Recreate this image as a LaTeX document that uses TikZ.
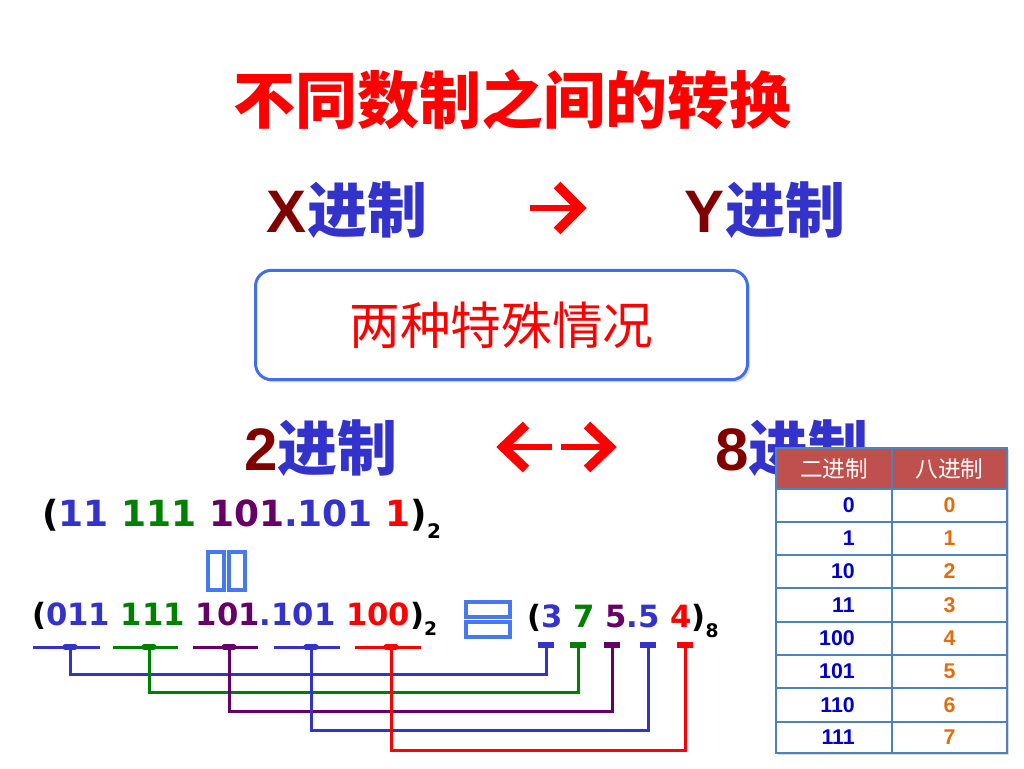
\documentclass[tikz,border=0pt]{standalone}
\usepackage{fontspec}
\setmainfont{DejaVu Sans}
\newfontfamily\cjk{Noto Sans CJK SC}
\newfontfamily\arialf{Liberation Sans}
\newfontfamily\dvf{DejaVu Sans}
\usetikzlibrary{shadows,calc}
\definecolor{tred}{RGB}{255,0,0}
\definecolor{dred}{RGB}{128,0,0}
\definecolor{tblue}{RGB}{51,51,204}
\definecolor{tgreen}{RGB}{0,128,0}
\definecolor{tpurp}{RGB}{102,0,102}
\definecolor{bxblue}{RGB}{66,110,235}
\definecolor{hdr}{RGB}{192,80,77}
\definecolor{gridc}{RGB}{79,129,189}
\definecolor{tdblue}{RGB}{0,0,204}
\definecolor{torange}{RGB}{228,108,10}
\definecolor{tofu}{RGB}{70,120,240}
\newcommand\mysub[2]{\raisebox{-0.32em}{\fontsize{#1}{#1}\selectfont #2}}
\tikzset{
  big/.style={inner sep=0pt, font=\fontsize{45}{50}\selectfont},
  bin/.style={inner sep=0pt, anchor=west, font=\dvf\bfseries},
  conn/.style={line width=2.25pt},
  gmark/.style={line width=4pt, line cap=round},
  omark/.style={line width=4.5pt},
  tofubox/.style={draw=tofu, line width=2.4pt},
  shaft/.style={draw=tred, line width=5.2pt},
  chev/.style={draw=tred, line width=7pt, miter limit=10},
  lcell/.style={inner sep=0pt, anchor=east, text=tdblue, font=\arialf\bfseries\fontsize{16}{16}\selectfont},
  rcell/.style={inner sep=0pt, text=torange, font=\arialf\bfseries\fontsize{16}{16}\selectfont},
  hcell/.style={inner sep=0pt, text=white, font=\cjk\fontsize{17}{17}\selectfont},
  gline/.style={draw=gridc, line width=1.6pt},
}
\begin{document}
\begin{tikzpicture}[x=0.75pt,y=-0.75pt]
\useasboundingbox (0,0) rectangle (1024,768);
% title
\node[inner sep=0pt, text=tred, font=\cjk\bfseries\fontsize{46.5}{50}\selectfont] (title) at (512,100) {不同数制之间的转换};
% X -> Y
\node[big] (xn) at (347,210) {{\arialf\bfseries\color{dred}X}{\cjk\bfseries\color{tblue}进制}};
\coordinate (a1s) at (530,208);
\coordinate (a1t) at (580,208);
\draw[shaft] (a1s) -- ($(a1t)+(-6,0)$);
\draw[chev] ($(a1t)+(-23,-23)$) -- (a1t) -- ($(a1t)+(-23,23)$);
\node[big] (yn) at (765,210) {{\arialf\bfseries\color{dred}Y}{\cjk\bfseries\color{tblue}进制}};
% special box
\node[draw=bxblue, line width=2.25pt, rounded corners=12pt, fill=white,
      minimum width=369pt, minimum height=82pt, inner sep=0pt,
      drop shadow={opacity=0.25, shadow xshift=2pt, shadow yshift=-2pt},
      text=tred, font=\cjk\fontsize{38}{40}\selectfont] (box) at (501.5,325) {两种特殊情况};
% 2 <-> 8
\node[big] (two) at (321,448) {{\arialf\bfseries\color{dred}2}{\cjk\bfseries\color{tblue}进制}};
\coordinate (a2l) at (503,447);
\coordinate (a2m) at (552,447);
\coordinate (a3m) at (561,447);
\coordinate (a3r) at (610,447);
\draw[shaft] ($(a2l)+(6,0)$) -- (a2m);
\draw[chev] ($(a2l)+(23,-22)$) -- (a2l) -- ($(a2l)+(23,22)$);
\draw[shaft] (a3m) -- ($(a3r)+(-6,0)$);
\draw[chev] ($(a3r)+(-23,-22)$) -- (a3r) -- ($(a3r)+(-23,22)$);
\node[big] (eight) at (792,448) {{\arialf\bfseries\color{dred}8}{\cjk\bfseries\color{tblue}进制}};
% binary line 1
\node[bin, font=\dvf\bfseries\fontsize{27}{30}\selectfont] (bin1) at (42,519)
  {(\textcolor{tblue}{11} \textcolor{tgreen}{111} \textcolor{tpurp}{101}\textcolor{tblue}{.101} \textcolor{tred}{1})\mysub{15}{2}};
% tofu boxes (down arrow)
\draw[tofubox] (208,552) rectangle (224,590);
\draw[tofubox] (229,552) rectangle (245,590);
% binary line 2
\node[bin, font=\dvf\bfseries\fontsize{23}{26}\selectfont] (bin2) at (32,619)
  {(\textcolor{tblue}{011} \textcolor{tgreen}{111} \textcolor{tpurp}{101}\textcolor{tblue}{.101} \textcolor{tred}{100})\mysub{14}{2}};
% tofu box (equals)
\draw[tofubox] (466,602) rectangle (510,617);
\draw[tofubox] (466,622) rectangle (510,637);
% octal
\node[bin, font=\dvf\bfseries\fontsize{23}{26}\selectfont] (oct) at (527,621)
  {(\textcolor{tblue}{3} \textcolor{tgreen}{7} \textcolor{tpurp}{5}\textcolor{tblue}{.5} \textcolor{tred}{4})\mysub{14}{8}};
% group brackets
\foreach \i/\l/\r/\c/\o/\h/\col in {1/33/100/70/546/674/tblue, 2/113/178/149/578/692/tgreen, 3/193/258/229/612/711/tpurp, 4/274/340/311/648/730/tblue, 5/355/421/391/685/750/tred}{
  \coordinate (gl\i) at (\l,647);
  \coordinate (gr\i) at (\r,647);
  \coordinate (gc\i) at (\c,647);
  \coordinate (oc\i) at (\o,646);
  \coordinate (h\i) at (\o,\h);
  \draw[conn, draw=\col] (gl\i) -- (gr\i);
  \draw[gmark, draw=\col] ($(gc\i)+(-5,0)$) -- ($(gc\i)+(5,0)$);
  \draw[conn, draw=\col] (gc\i) |- (h\i) -- (oc\i);
  \draw[omark, draw=\col] ($(oc\i)+(-8,-1)$) -- ($(oc\i)+(8,-1)$);
}
% table
\fill[white, drop shadow={opacity=0.3, shadow xshift=1.5pt, shadow yshift=-1.5pt}] (776,448) rectangle (1007,753);
\fill[hdr] (776,448) rectangle (1007,489);
\foreach \y in {489,522,555,588,622,655,688,722}{\draw[gline] (776,\y) -- (1007,\y);}
\draw[gline] (776,448) rectangle (1007,753);
\draw[gline] (892,448) -- (892,753);
\node[hcell] (h1) at (834,469) {二进制};
\node[hcell] (h2) at (949.5,469) {八进制};
\foreach \b/\o/\y [count=\k] in {0/0/505.5, 1/1/538.5, 10/2/571.5, 11/3/605, 100/4/638.5, 101/5/671.5, 110/6/705, 111/7/737.5}{
  \node[lcell] (lb\k) at (855,\y) {\b};
  \node[rcell] (ro\k) at (949.5,\y) {\o};
}
\end{tikzpicture}
\end{document}
